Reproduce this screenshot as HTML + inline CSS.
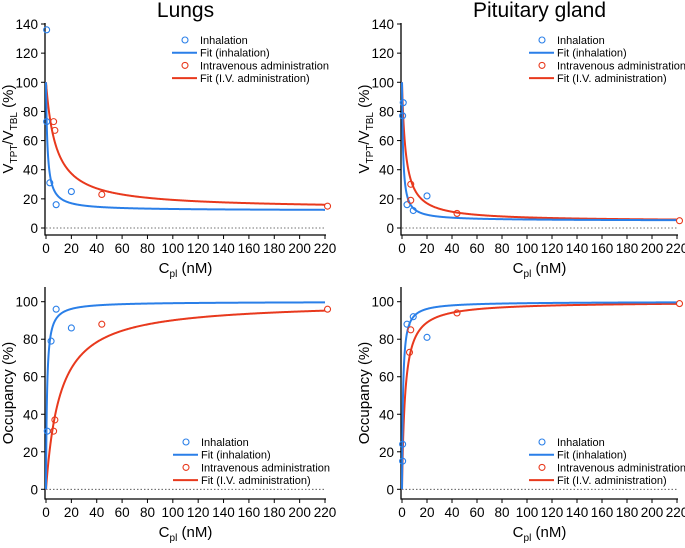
<!DOCTYPE html>
<html><head><meta charset="utf-8"><style>
body{margin:0;background:#fff;font-family:"Liberation Sans",Arial,sans-serif}
svg text{font-family:"Liberation Sans",Arial,sans-serif}
</style></head><body>
<svg id="c" width="685" height="543" xmlns="http://www.w3.org/2000/svg"></svg>
<script>
// ---- data ----
const xTicks = [0,20,40,60,80,100,120,140,160,180,200,220];
const vTicks = [0,20,40,60,80,100,120,140];
const oTicks = [0,20,40,60,80,100];
const lungsVInhX = [0.5,0.5,3,8,20];
const lungsVInhY = [136,73,31,16,25];
const lungsVIvX = [6,7,44,222];
const lungsVIvY = [73,67,23,15];
const lungsOInhX = [1,4,8,20];
const lungsOInhY = [31,79,96,86];
const lungsOIvX = [6,7,44,222];
const lungsOIvY = [31,37,88,96];
const pitVInhX = [1,0.5,4,9,20];
const pitVInhY = [86,77,16,12,22];
const pitVIvX = [7,7,44,222];
const pitVIvY = [30,19,10,5];
const pitOInhX = [0.5,0.5,4,9,20];
const pitOInhY = [24,15,88,92,81];
const pitOIvX = [6,7,44,222];
const pitOIvY = [73,85,94,99];
// fit parameters [baseline, K]
const lungsVInhFit = [12,1.2];
const lungsVIvFit = [13,7.8];
const lungsOInhFit = [0.8];
const lungsOIvFit = [11];
const pitVInhFit = [5,0.9];
const pitVIvFit = [4.5,3];
const pitOInhFit = [0.8];
const pitOIvFit = [2.5];
const BLUE="#2a7fe8", RED="#e8391d";
const svg=document.getElementById('c');
const NS="http://www.w3.org/2000/svg";
function mk(tag,attrs,parent){const e=document.createElementNS(NS,tag);for(const k in attrs)e.setAttribute(k,attrs[k]);(parent||svg).appendChild(e);return e;}
function txt(s,attrs,parent){const e=mk('text',attrs,parent);e.textContent=s;return e;}

function panel(p){
  const g=mk('g',{});
  
  
  const sx=v=>p.x0+v*(p.x1-p.x0)/220;
  const sy=v=>p.y0-v*(p.y0-p.yTop)/p.ymaxT;
  const ax=mk('path',{d:`M${p.x0-1},${p.axTop}V${p.axY}H${p.x1+1}`,stroke:'#000','stroke-width':1.3,fill:'none'},g);
  
  
  const zl=mk('line',{x1:p.x0,x2:p.x1,y1:sy(0),y2:sy(0),stroke:'#444','stroke-dasharray':'1.5,2','stroke-width':0.8},g);
  
  
  xTicks.forEach(t=>{
    mk('line',{x1:sx(t),x2:sx(t),y1:p.axY,y2:p.axY+4,stroke:'#000','stroke-width':1},g);
    const l=txt(t,{x:sx(t),y:p.axY+18,'font-size':13.5,'text-anchor':'middle'},g);
    
    
  });
  p.yt.forEach(t=>{
    mk('line',{x1:p.x0-5,x2:p.x0-1,y1:sy(t),y2:sy(t),stroke:'#000','stroke-width':1},g);
    const l=txt(t,{x:p.x0-8,y:sy(t)+5,'font-size':13.5,'text-anchor':'end'},g);
    
    
  });
  const xt=txt('',{x:(p.x0+p.x1)/2,y:p.axY+38,'font-size':15,'text-anchor':'middle'},g);
  xt.innerHTML='C<tspan font-size="10" dy="4">pl</tspan><tspan dy="-4"> (nM)</tspan>';
  
  
  const cy=(p.axTop+p.axY)/2;
  const yt=txt('',{x:0,y:0,'font-size':15,'text-anchor':'middle',transform:`translate(${p.x0-33},${cy}) rotate(-90)`},g);
  if(p.occ) yt.textContent='Occupancy (%)';
  else yt.innerHTML='V<tspan font-size="10" dy="4">TPT</tspan><tspan dy="-4">/V</tspan><tspan font-size="10" dy="4">TBL</tspan><tspan dy="-4"> (%)</tspan>';
  
  
  if(p.title){const t=txt(p.title,{x:(p.x0+p.x1)/2,y:17,'font-size':21,'text-anchor':'middle'},g);
    }
  function fit(f,col,nm){
    let d='';
    for(let i=0;i<=600;i++){const c=220*Math.pow(i/600,2.2)+0.001*(i>0);
      const v=p.occ?100*c/(c+f[0]):f[0]+(100-f[0])*f[1]/(f[1]+c);
      d+=(i?'L':'M')+sx(c).toFixed(2)+','+sy(v).toFixed(2);}
    const e=mk('path',{d,stroke:col,'stroke-width':2,fill:'none'},g);
    
    
  }
  fit(p.ivFit,RED,'fit-iv-line');
  fit(p.inhFit,BLUE,'fit-inhalation-line');
  function pts(xs,ys,col,nm){xs.forEach((x,i)=>{
    const c=mk('circle',{cx:sx(x),cy:sy(ys[i]),r:3,fill:'none',stroke:col,'stroke-width':1.1},g);
    
    });}
  pts(p.inhX,p.inhY,BLUE,'inhalation-point');
  pts(p.ivX,p.ivY,RED,'iv-point');
  const lg=mk('g',{},g);
  
  
  const items=[['Inhalation',BLUE,'o'],['Fit (inhalation)',BLUE,'l'],['Intravenous administration',RED,'o'],['Fit (I.V. administration)',RED,'l']];
  items.forEach((it,i)=>{const y=p.ly+i*12.7;
    if(it[2]=='o')mk('circle',{cx:p.lx-15,cy:y-4,r:3,fill:'none',stroke:it[1],'stroke-width':1.1},lg);
    else mk('line',{x1:p.lx-28,x2:p.lx-3,y1:y-4,y2:y-4,stroke:it[1],'stroke-width':2},lg);
    const t=txt(it[0],{x:p.lx,y:y,'font-size':11},lg);
    
    
  });
}
panel({name:'lungs-v-panel',title:'Lungs',x0:46,x1:325,y0:228,yTop:24,ymaxT:140,axTop:23,axY:235,yt:vTicks,occ:false,
  inhX:lungsVInhX,inhY:lungsVInhY,ivX:lungsVIvX,ivY:lungsVIvY,inhFit:lungsVInhFit,ivFit:lungsVIvFit,lx:200,ly:44});
panel({name:'pituitary-v-panel',title:'Pituitary gland',x0:402,x1:677,y0:228,yTop:24,ymaxT:140,axTop:23,axY:235,yt:vTicks,occ:false,
  inhX:pitVInhX,inhY:pitVInhY,ivX:pitVIvX,ivY:pitVIvY,inhFit:pitVInhFit,ivFit:pitVIvFit,lx:557,ly:44});
panel({name:'lungs-occupancy-panel',x0:46,x1:325,y0:489.3,yTop:301.7,ymaxT:100,axTop:287,axY:499,yt:oTicks,occ:true,
  inhX:lungsOInhX,inhY:lungsOInhY,ivX:lungsOIvX,ivY:lungsOIvY,inhFit:lungsOInhFit,ivFit:lungsOIvFit,lx:201,ly:446});
panel({name:'pituitary-occupancy-panel',x0:402,x1:677,y0:489.3,yTop:301.7,ymaxT:100,axTop:287,axY:499,yt:oTicks,occ:true,
  inhX:pitOInhX,inhY:pitOInhY,ivX:pitOIvX,ivY:pitOIvY,inhFit:pitOInhFit,ivFit:pitOIvFit,lx:557,ly:446});
</script>
</body></html>
